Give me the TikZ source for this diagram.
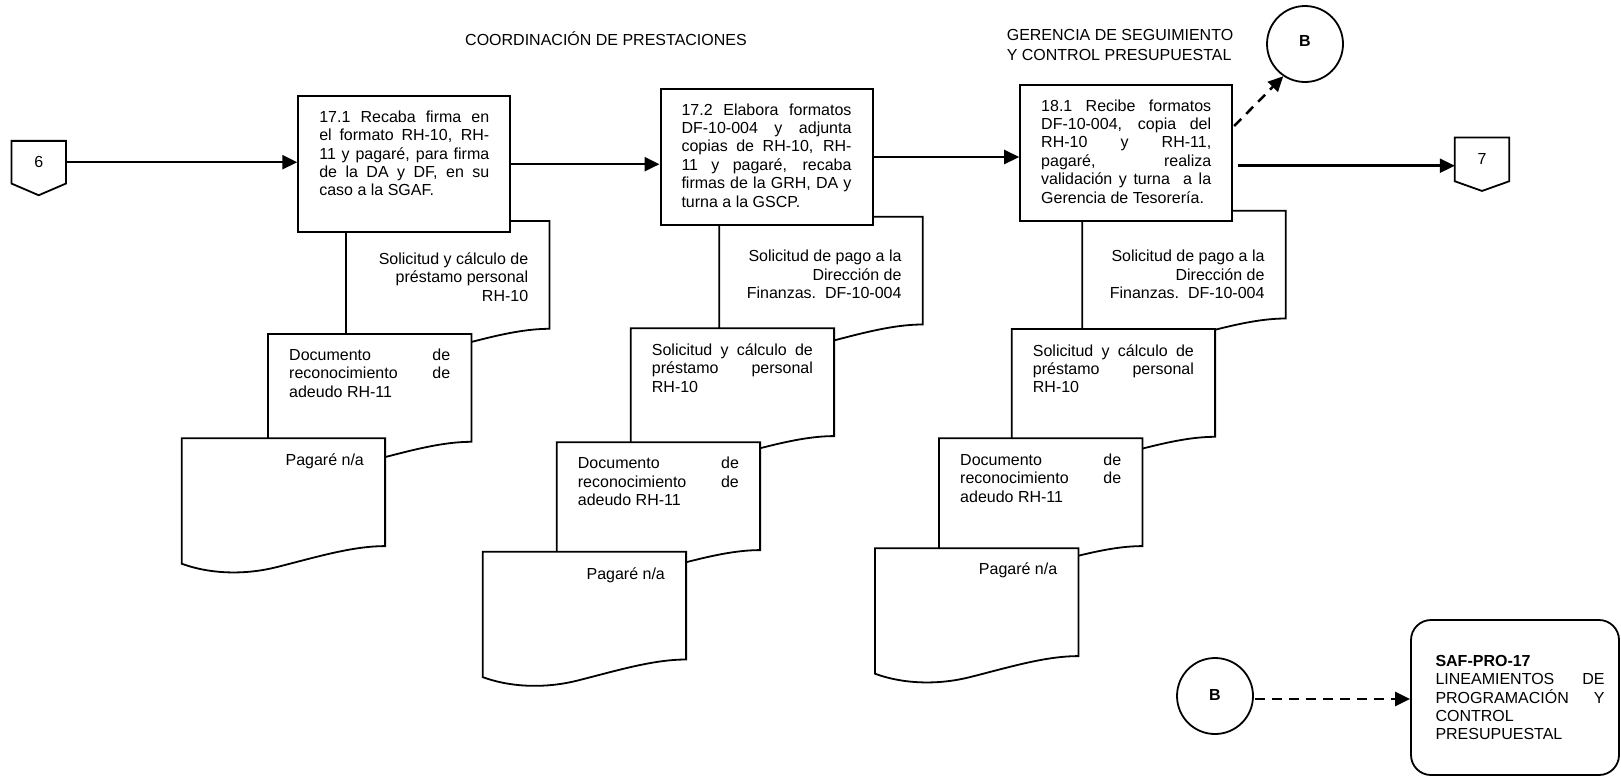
\documentclass[tikz,border=0pt]{standalone}
\usepackage{fontspec}
\setmainfont{Liberation Sans}
\usetikzlibrary{arrows.meta,backgrounds}

% one fully justified line of a paragraph
\newcommand\jl[1]{\makebox[\linewidth][s]{#1}\par}
% text of a process box, set from the top
\newcommand\proctext[1]{\parbox[c][106.8pt][t]{170pt}{#1}}
% text of a document symbol: #1 offset from the top, #2 alignment, #3 text
\newcommand\doctext[3]{\parbox[c][107.4pt][t]{203pt}{\vspace*{#1}\hspace*{21pt}\parbox[t]{161pt}{#2#3}}}
% outline of a document symbol with its wavy lower edge
\newcommand\docpath[1]{%
  \path[docline] (#1.north west) -- (#1.north east) -- (#1.south east)
    .. controls +(-33,0) and +(40,-10.1) .. ([shift={(95,21)}]#1.south west)
    .. controls +(-30,7.6) and +(30,11) .. ([shift={(0,17.6)}]#1.south west) -- cycle;}

\begin{document}
\begin{tikzpicture}[x=1pt,y=-1pt,
  every node/.style={font=\fontsize{16}{18.4}\selectfont},
  procbox/.style={draw, line width=2pt, fill=white, inner xsep=21pt, inner ysep=14.6pt},
  docbox/.style={inner sep=0pt, anchor=north west},
  docline/.style={draw, line width=1.8pt, fill=white},
  offpage/.style={minimum width=54pt, inner sep=0pt},
  outline/.style={line width=1.8pt},
  conn/.style={circle, draw, line width=1.8pt, minimum size=76pt, inner sep=0pt,
    font=\fontsize{16}{18.4}\selectfont\bfseries},
  flow/.style={line width=2.5pt, -{Triangle[length=15pt,width=14pt]}},
  dflow/.style={flow, dash pattern=on 10pt off 7pt},
]
\useasboundingbox (0,0) rectangle (1621,777);

% headings
\node (t1) at (606,38.3) {COORDINACIÓN DE PRESTACIONES};
\node[align=left] (t2) at (1120,45) {GERENCIA DE SEGUIMIENTO\\[1.6pt]Y CONTROL PRESUPUESTAL};

% documents, first column
\node[docbox] (d11) at (346,221) {\doctext{31.6pt}{\raggedleft}{Solicitud y cálculo de\\préstamo personal\\RH-10}};
\begin{scope}[on background layer]\docpath{d11}\end{scope}
\node[docbox] (d12) at (268,334) {\doctext{14.7pt}{}{\jl{Documento de}\jl{reconocimiento de}adeudo RH-11}};
\begin{scope}[on background layer]\docpath{d12}\end{scope}
\node[docbox] (d13) at (181.7,438.3) {\doctext{15.1pt}{\raggedleft}{Pagaré n/a}};
\begin{scope}[on background layer]\docpath{d13}\end{scope}

% documents, second column
\node[docbox] (d21) at (719.3,216.7) {\doctext{33.1pt}{\raggedleft}{Solicitud de pago a la\\Dirección de\\Finanzas.\ \ DF-10-004}};
\begin{scope}[on background layer]\docpath{d21}\end{scope}
\node[docbox] (d22) at (630.7,328.3) {\doctext{15.1pt}{}{\jl{Solicitud y cálculo de}\jl{préstamo personal}RH-10}};
\begin{scope}[on background layer]\docpath{d22}\end{scope}
\node[docbox] (d23) at (556.7,442.3) {\doctext{14.5pt}{}{\jl{Documento de}\jl{reconocimiento de}adeudo RH-11}};
\begin{scope}[on background layer]\docpath{d23}\end{scope}
\node[docbox] (d24) at (482.7,551.7) {\doctext{15.7pt}{\raggedleft}{Pagaré n/a}};
\begin{scope}[on background layer]\docpath{d24}\end{scope}

% documents, third column
\node[docbox] (d31) at (1082.3,210.7) {\doctext{39.4pt}{\raggedleft}{Solicitud de pago a la\\Dirección de\\Finanzas.\ \ DF-10-004}};
\begin{scope}[on background layer]\docpath{d31}\end{scope}
\node[docbox] (d32) at (1011.7,329) {\doctext{15.1pt}{}{\jl{Solicitud y cálculo de}\jl{préstamo personal}RH-10}};
\begin{scope}[on background layer]\docpath{d32}\end{scope}
\node[docbox] (d33) at (939,438.3) {\doctext{15.1pt}{}{\jl{Documento de}\jl{reconocimiento de}adeudo RH-11}};
\begin{scope}[on background layer]\docpath{d33}\end{scope}
\node[docbox] (d34) at (875,548.3) {\doctext{14.1pt}{\raggedleft}{Pagaré n/a}};
\begin{scope}[on background layer]\docpath{d34}\end{scope}

% process boxes
\node[procbox] (n171) at (404.3,164.2) {\proctext{\jl{17.1 Recaba firma en}\jl{el formato RH-10, RH-}\jl{11 y pagaré, para firma}\jl{de la DA y DF, en su}caso a la SGAF.}};
\node[procbox] (n172) at (766.5,157) {\proctext{\jl{17.2 Elabora formatos}\jl{DF-10-004 y adjunta}\jl{copias de RH-10, RH-}\jl{11 y pagaré, recaba}\jl{firmas de la GRH, DA y}turna a la GSCP.}};
\node[procbox] (n181) at (1126.2,153) {\proctext{\jl{18.1 Recibe formatos}\jl{DF-10-004, copia del}\jl{RH-10 y RH-11,}\jl{pagaré, realiza}\jl{validación y turna\ \ a la}Gerencia de Tesorería.}};

% off-page connectors
\node[offpage, minimum height=42.3pt] (c6) at (38.7,162.2) {6};
\draw[outline] (c6.north west) -- (c6.north east) -- (c6.south east)
  -- ([shift={(0,11.7)}]c6.south) -- (c6.south west) -- cycle;
\node[offpage, minimum height=43.3pt] (c7) at (1482,159.4) {7};
\draw[outline] (c7.north west) -- (c7.north east) -- (c7.south east)
  -- ([shift={(0,9.7)}]c7.south) -- (c7.south west) -- cycle;

% on-page connectors and reference box
\node[conn] (B1) at (1305,44) {\raisebox{6pt}{B}};
\node[conn] (B2) at (1215,696) {\raisebox{2pt}{B}};
\node[draw, line width=1.8pt, rounded corners=20pt, minimum width=208pt, minimum height=155pt, inner sep=0pt] (saf) at (1515,697.5)
  {\makebox[179pt][r]{\parbox{169pt}{\textbf{SAF-PRO-17}\par\jl{LINEAMIENTOS DE}\jl{PROGRAMACIÓN Y}CONTROL\par PRESUPUESTAL}}};

% flow
\draw[flow] (c6.east) -- (c6.east -| n171.west);
\draw[flow] (n171.east) -- (n171.east -| n172.west);
\draw[flow] (n172.east) -- (n172.east -| n181.west);
\coordinate (o181) at ([shift={(5,12.7)}]n181.east);
\draw[flow] (o181) -- (o181 -| c7.west);
\coordinate (b181) at ([shift={(1,-27)}]n181.east);
\draw[dflow] (b181) -- (B1.236);
\coordinate (b2o) at ([shift={(1,3)}]B2.east);
\draw[dflow] (b2o) -- (b2o -| saf.west);
\end{tikzpicture}
\end{document}
